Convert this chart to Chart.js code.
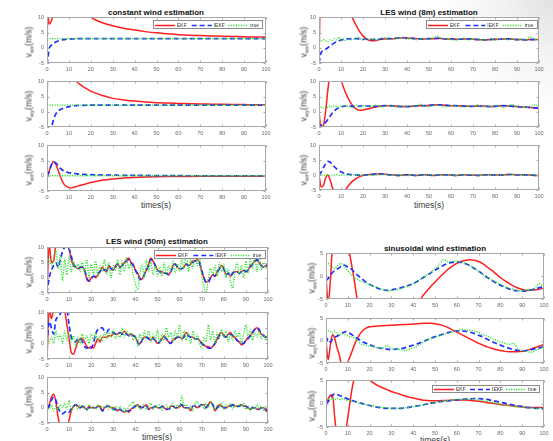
<!DOCTYPE html>
<html>
<head>
<meta charset="utf-8">
<script src="https://cdn.jsdelivr.net/npm/chart.js@4.4.1/dist/chart.umd.min.js"></script>
<style>
  body { margin: 0; width: 553px; height: 441px; overflow: hidden; position: relative;
         background: radial-gradient(circle at 553px 0px, #e2e2e2 0px, #f2f2f2 50px, #fff 115px);
         font-family: "Liberation Sans", Arial, sans-serif; }
  canvas { position: absolute; }
  .ttl { position: absolute; font-weight: bold; font-size: 8px; color: #111; white-space: nowrap; transform: translate(-50%, -50%); }
  .xl { position: absolute; font-size: 8.5px; color: #3a3a3a; white-space: nowrap; transform: translate(-50%, -50%); }
  .yl { position: absolute; font-size: 8.5px; color: #3a3a3a; white-space: nowrap; transform: translate(-50%, -50%) rotate(-90deg); }
  .yl sub { font-size: 6px; vertical-align: -2px; }
</style>
</head>
<body>
<script>
// ---- tick labels ----
const xTicks = [0, 10, 20, 30, 40, 50, 60, 70, 80, 90, 100];
const yTicksLES = [-5, 0, 5, 10];
const yTicksSin = [-5, 0, 5];
const seriesNames = ["EKF", "IEKF", "true"];

// ---- constant wind ----
const tConst = [0, 0.3, 1, 2, 3, 4, 5, 6, 7, 8, 9, 10, 11, 12, 13, 14, 15, 16, 18, 20, 22, 25,
  30, 35, 40, 45, 50, 55, 60, 65, 70, 75, 80, 85, 90, 95, 100];
const cxEkf = [-6, 11, 7.8, 8.8, 11.5, 14, 16, 17, 17.5, 17.5, 17, 16.5, 16, 15.5, 15, 14.2, 13.4, 12.7, 11.3, 10.1, 9.2, 8.3,
  7.2, 6.4, 5.8, 5.3, 4.9, 4.6, 4.3, 4.1, 4.0, 3.9, 3.8, 3.7, 3.6, 3.55, 3.5];
const cxIekf = [-5.5, -4, -0.3, 0.8, 1.5, 1.9, 2.2, 2.4, 2.6, 2.7, 2.8, 2.85, 2.9, 2.95, 2.95, 3, 3, 3, 3, 3, 3, 3,
  3, 3, 3, 3, 3, 3, 3, 3, 3, 3, 3, 3, 3, 3, 3];
const cxTrue = [3, 3, 3, 3, 3, 3, 3, 3, 3, 3, 3, 3, 3, 3, 3, 3, 3, 3, 3, 3, 3, 3,
  3, 3, 3, 3, 3, 3, 3, 3, 3, 3, 3, 3, 3, 3, 3];
const cyEkf = [0, 14, 20, 22, 22, 21, 20, 19, 18, 17, 15.5, 14, 12.8, 11.5, 10.3, 9.6, 9.0, 8.5, 7.6, 6.8, 6.2, 5.4,
  4.4, 3.9, 3.5, 3.2, 3.0, 2.85, 2.75, 2.65, 2.55, 2.5, 2.45, 2.4, 2.35, 2.3, 2.3];
const cyIekf = [-6, -5.5, -5.2, -5, -2.5, -0.8, 0.2, 0.7, 1.0, 1.3, 1.5, 1.7, 1.8, 1.9, 2.0, 2.05, 2.1, 2.1, 2.15, 2.2, 2.2, 2.2,
  2.2, 2.2, 2.2, 2.2, 2.2, 2.2, 2.2, 2.2, 2.2, 2.2, 2.2, 2.2, 2.2, 2.2, 2.2];
const cyTrue = [2.2, 2.2, 2.2, 2.2, 2.2, 2.2, 2.2, 2.2, 2.2, 2.2, 2.2, 2.2, 2.2, 2.2, 2.2, 2.2, 2.2, 2.2, 2.2, 2.2, 2.2, 2.2,
  2.2, 2.2, 2.2, 2.2, 2.2, 2.2, 2.2, 2.2, 2.2, 2.2, 2.2, 2.2, 2.2, 2.2, 2.2];
const czEkf = [0, 0.2, 1.5, 3.5, 4.7, 3.8, 2, 0, -1.8, -3, -3.6, -3.9, -4.0, -3.8, -3.6, -3.4, -3.2, -3.0, -2.6, -2.2, -1.9, -1.5,
  -1.05, -0.75, -0.55, -0.4, -0.32, -0.27, -0.23, -0.2, -0.18, -0.16, -0.15, -0.14, -0.13, -0.12, -0.12];
const czIekf = [0, 0.2, 1.5, 3.6, 4.5, 4.2, 3.4, 2.5, 1.9, 1.5, 1.2, 1.0, 0.9, 0.8, 0.7, 0.6, 0.55, 0.5, 0.4, 0.35, 0.3, 0.25,
  0.2, 0.15, 0.1, 0.1, 0.05, 0.05, 0.05, 0, 0, 0, 0, 0, 0, 0, 0];
const czTrue = [0, 0, 0, 0, 0, 0, 0, 0, 0, 0, 0, 0, 0, 0, 0, 0, 0, 0, 0, 0, 0, 0,
  0, 0, 0, 0, 0, 0, 0, 0, 0, 0, 0, 0, 0, 0, 0];

// ---- LES wind (8m) ----
const t8 = [0, 1, 2, 3, 4, 5, 6, 7, 8, 9, 10, 11, 12, 13, 14, 15, 16, 17, 18, 19, 20,
  22, 24, 26, 28, 30, 32, 34, 36, 38, 40, 42, 44, 46, 48, 50, 52, 54, 56, 58, 60,
  62, 64, 66, 68, 70, 72, 74, 76, 78, 80, 82, 84, 86, 88, 90, 92, 94, 96, 98, 100];
const x8Ekf = [-5, 30, 29, 28, 26, 24, 22, 20, 18.5, 17, 15.6, 14.3, 13.1, 12, 11, 10, 8.6, 7.2, 5.9, 4.8, 3.9,
  2.7, 2.3, 2.4, 2.8, 2.9, 3.0, 3.0, 3.1, 3.3, 3.2, 3.1, 3.0, 2.9, 2.9, 3.0, 3.0, 3.1, 3.0, 2.9, 2.9,
  2.8, 2.8, 2.9, 2.9, 2.8, 2.7, 2.6, 2.6, 2.7, 2.8, 2.8, 2.9, 2.9, 2.8, 2.7, 2.7, 2.6, 2.7, 2.7, 2.7];
const x8Iekf = [-5, -1.5, -1.0, -0.5, 0, 0.6, 1.1, 1.6, 2.0, 2.3, 2.5, 2.7, 2.8, 2.9, 2.9, 3.0, 3.0, 3.0, 2.9, 2.9, 2.8,
  2.8, 2.7, 2.8, 2.9, 3.0, 3.0, 3.1, 3.2, 3.3, 3.2, 3.1, 3.0, 2.9, 2.9, 3.0, 3.0, 3.1, 3.0, 2.9, 2.9,
  2.8, 2.8, 2.9, 2.9, 2.8, 2.7, 2.6, 2.6, 2.7, 2.8, 2.8, 2.9, 2.9, 2.8, 2.7, 2.7, 2.6, 2.7, 2.7, 2.7];
const x8True = [2.5, 2.2, 2.8, 2.3, 2.0, 2.6, 2.4, 3.0, 2.6, 3.5, 2.5, 2.9, 2.4, 2.7, 3.1, 2.6, 2.8, 3.2, 3.4, 2.9, 2.5,
  3.0, 2.8, 2.6, 3.1, 3.3, 2.7, 2.9, 3.2, 3.4, 2.8, 3.0, 2.6, 2.9, 3.1, 2.7, 3.3, 3.8, 2.9, 3.0, 2.7,
  2.5, 2.9, 3.2, 2.6, 2.8, 3.0, 2.5, 2.7, 3.1, 2.4, 2.8, 3.0, 2.6, 2.9, 2.5, 2.8, 2.6, 3.6, 2.7, 2.6];
const y8Ekf = [0, -6, -4.5, 0, 7, 12.5, 16, 17, 16, 13.5, 10.3, 8.3, 6.4, 4.8, 3.4, 2.3, 1.5, 0.9, 0.6, 0.5, 0.6,
  0.9, 1.3, 1.6, 1.9, 2.0, 2.0, 1.9, 1.8, 1.7, 1.7, 1.8, 1.9, 2.0, 2.0, 2.1, 2.2, 2.3, 2.2, 2.1, 2.0,
  2.0, 1.9, 1.9, 1.8, 1.8, 1.9, 1.9, 1.8, 1.7, 1.8, 1.9, 2.0, 1.9, 1.8, 1.7, 1.6, 1.5, 1.4, 1.2, 1.1];
const y8Iekf = [-5.5, -4.5, -4.0, -3.5, -2.5, -1.5, -0.5, 0.3, 0.9, 1.3, 1.6, 1.8, 1.9, 1.9, 1.9, 1.8, 1.8, 1.8, 1.8, 1.9, 1.9,
  1.9, 1.8, 1.8, 1.9, 2.0, 2.0, 1.9, 1.8, 1.7, 1.7, 1.8, 1.9, 2.0, 2.0, 2.1, 2.2, 2.3, 2.2, 2.1, 2.0,
  2.0, 1.9, 1.9, 1.8, 1.8, 1.9, 1.9, 1.8, 1.7, 1.8, 1.9, 2.0, 1.9, 1.8, 1.7, 1.6, 1.5, 1.4, 1.3, 1.2];
const y8True = [2.3, 1.5, 1.2, 1.8, 1.4, 1.9, 1.6, 2.0, 1.7, 1.5, 1.9, 1.6, 2.1, 1.8, 1.7, 1.4, 1.9, 2.2, 1.8, 1.6, 2.0,
  1.7, 1.9, 2.2, 1.6, 1.8, 2.1, 1.7, 1.5, 1.9, 1.8, 2.0, 1.6, 2.5, 1.9, 1.7, 2.0, 2.2, 1.8, 1.6, 2.1,
  1.9, 1.7, 1.5, 2.0, 1.8, 2.3, 1.6, 1.9, 1.7, 2.0, 1.8, 1.5, 1.9, 2.4, 1.6, 1.8, 1.4, 1.7, 2.3, 1.6];
const z8Ekf = [0, -4.0, -3.5, -1, 0, -1.5, -4, -5.5, -6.5, -7, -6.8, -6, -5, -3.9, -3, -2.2, -1.6, -1.1, -0.7, -0.35, -0.1,
  0.1, 0.25, 0.35, 0.4, 0.3, 0.1, 0, -0.1, 0, 0.1, 0, -0.1, 0, 0.1, 0, -0.1, 0, 0.1, 0.1, 0,
  -0.1, 0, 0.1, 0, 0, -0.1, 0, 0.1, 0.1, 0, 0, 0.1, 0.2, 0.2, 0.1, 0.1, 0, 0, -0.1, -0.2];
const z8Iekf = [0, 1.0, 2.5, 3.8, 4.6, 4.4, 3.6, 2.8, 2.1, 1.5, 1.1, 0.8, 0.5, 0.3, 0.2, 0.1, 0.05, 0, 0, 0, 0,
  0.1, 0.2, 0.3, 0.35, 0.3, 0.1, 0, -0.1, 0, 0.1, 0, -0.1, 0, 0.1, 0, -0.1, 0, 0.1, 0.1, 0,
  -0.1, 0, 0.1, 0, 0, -0.1, 0, 0.1, 0.1, 0, 0, 0.1, 0.2, 0.2, 0.1, 0.1, 0, 0, -0.1, -0.2];
const z8True = [0, 0.1, -0.1, 0.1, 0, -0.1, 0.1, 0, 0.1, -0.1, 0, 0.1, 0, -0.1, 0.1, 0, 0.1, -0.1, 0, 0.1, 0,
  0.1, -0.1, 0, 0.1, 0.2, 0, -0.1, 0.1, 0, -0.2, 0.1, 0, 0.1, -0.1, 0, 0.1, 0, -0.1, 0.1, 0,
  -0.1, 0.1, 0, 0.1, 0.2, 0, -0.1, 0, 0.1, 0, -0.1, 0.1, 0, 0.1, 0.2, 0, -0.1, 0, 0.1, -0.1];

// ---- LES wind (50m) ----
const t50 = [0, 1, 2, 3, 4, 5, 6, 7, 8, 9, 10, 11, 12, 13, 14, 15, 16, 17, 18, 19,
  20, 21, 22, 23, 24, 25, 26, 27, 28, 29, 30, 31, 32, 33, 34, 35, 36, 37, 38, 39,
  40, 41, 42, 43, 44, 45, 46, 47, 48, 49, 50, 51, 52, 53, 54, 55, 56, 57, 58, 59,
  60, 61, 62, 63, 64, 65, 66, 67, 68, 69, 70, 71, 72, 73, 74, 75, 76, 77, 78, 79,
  80, 81, 82, 83, 84, 85, 86, 87, 88, 89, 90, 91, 92, 93, 94, 95, 96, 97, 98, 99, 100];
const x50Ekf = [-5, 11, 5, 5.5, 11, 13, 13, 12.5, 12, 11,
  9.5, 6, 4, 3.5, 3, 3.5, 3.5, 2.5, -0.5, -1.2,
  0, 0.5, 0, 1, 2, 3.5, 2.5, 2, 4, 3,
  2.5, 4, 4.5, 3.5, 4, 5, 6, 6.5, 5, 4.5,
  2.5, 1.5, 0, -0.5, 1, 2.5, 4.5, 6.5, 5.5, 4,
  2.5, 2, 2, 1.5, 1.5, 1, 2, 4, 4.5, 3.5,
  3, 3, 3.5, 4.5, 4, 4.5, 5.5, 5.5, 6, 5,
  2, 0, -1.5, -1, 0, 1, 0.5, 2, 3, 4,
  3, 1, 1.5, 0.5, 1.5, 2, 2, 1.5, 2, 2.5,
  2, 2.5, 4, 4.5, 5.5, 6, 5, 4, 3.5, 4, 4.5];
const x50Iekf = [-5, 0, 2.5, 4, 5, 3.5, 6, 8.5, 10, 10.5,
  9.5, 7, 4.5, 3.5, 3, 3.5, 3.5, 2.5, 0, -1,
  -0.5, 0.5, 0.5, 1.5, 2, 3, 2.5, 2.5, 3.5, 3,
  2.5, 3.5, 4.5, 3.5, 4, 5, 5.5, 6, 5, 4,
  2.5, 1, -0.5, -0.5, 1, 2.5, 4, 6, 5.5, 4,
  2.5, 2, 1.5, 1.5, 1.5, 1, 2, 3.5, 4.5, 3.5,
  3, 3, 3.5, 4.5, 4, 4.5, 5, 5.5, 5.5, 5,
  2.5, 0, -1.5, -1.5, 0, 1, 0.5, 1.5, 3, 3.5,
  3, 1, 1.5, 0.5, 1.5, 2, 2, 1.5, 2, 2.5,
  2, 2.5, 3.5, 4.5, 5, 6, 5, 4, 3.5, 3.5, 4.5];
const x50True = [5, 6, 4, 6.5, 9, 3, 7.5, -1, 6, 1,
  7, 2, 5.5, 3, 4.5, 2, 5, 1.5, 6, 0,
  4.5, 1, 5.5, 0.5, 4, 2, 6, 1, 5, 0,
  4, 2.5, 6, 1, 5.5, 2, 6.5, 3, 4.5, 1,
  -2, -4, 1, 4.5, 0, 6, 2, 5.5, 1, 4,
  0.5, 3.5, 0.5, 5, 1, 4, 2, 5.5, 1.5, 4.5,
  2, 6, 3, 8.5, 2, 6, 3, 10, 4, 6.5,
  1, -3, -5, 0, 3, 1, 4, 0.5, 5, 2,
  4.5, 0, 3, -1, -3.5, 2, 5, 1, 4, 0,
  5.5, 1.5, 6, 3, 7, 2, 8.5, 2.5, 5, 3, 4];
const y50Ekf = [-5, 11, 8, 11, 13, 14, 14, 13, 10.5, 6,
  1.5, -3, -3.5, -1.5, 0.5, 1.5, 1.5, 0.5, -1, -1.5,
  -1, -1.5, 0, 1.5, 0.5, 2, 2, 2, 2.5, 2.5,
  3, 3, 3, 3.5, 3, 4, 3, 2.5, 3, 2.5,
  2, 0.5, 0, 1, 2, 2, 1.5, 1, 2, 1,
  0, 0.5, 1.5, 2.5, 1.5, 0.5, 0, 1, 1.5, 2,
  2, 1.5, 2.5, 3.5, 2.5, 2, 2, 1.5, 1.5, 1,
  0, -0.5, -1, -1, -1.5, -1, 0, 1.5, 3, 3.5,
  2.5, 2, 3, 3.5, 2.5, 2, 1, 0.5, -0.5, 0,
  1, 2, 2.5, 3.5, 4.5, 5, 4, 3, 2.5, 2, 2];
const y50Iekf = [0, 7, 5, 3, 7.5, 8.5, 9.5, 11, 12, 11,
  6, 2, 1, 0.5, 1.5, 1.5, 0.5, -1, -1.5, -1,
  -1.5, 0, 3, 4.5, 5, 5, 4, 3.5, 4.5, 4,
  3.5, 3, 3, 3.5, 3, 3.5, 3, 2.5, 3, 2.5,
  2, 0.5, -0.5, 1, 2, 2, 1.5, 1, 1.5, 1,
  0, 0.5, 1.5, 2, 1.5, 0.5, 0, 1, 1.5, 2,
  2, 1.5, 2, 3, 2.5, 2, 2, 1.5, 1.5, 1,
  0, -0.5, -1, -1.5, -1.5, -1, 0, 1, 2.5, 3,
  2.5, 2, 2.5, 3, 2.5, 2, 1, 0.5, 0, 0,
  1, 1.5, 2.5, 3.5, 4.5, 5, 4.5, 3, 2.5, 2, 2];
const y50True = [1, 0.5, 2, 0, 4, 1.5, 3, 0, 4, 1,
  3.5, 0.5, 2.5, -1, 2, 0, 3, 1, 2.5, 0,
  3, 1, 3.5, 0.5, 2.5, 1, 3.5, 1.5, 4, 2,
  4.5, 1.5, 3, 2, 5, 2, 4, 2.5, 3.5, 1,
  2.5, -1, 3, 1, 4, 1.5, 4, 0.5, 3, 1,
  4.5, 0, 3, 1, 5, 2, 3.5, 0.5, 4, 2,
  6, 1, 4, 1, 3.5, 0, 4, 1, 3, 0,
  -1.5, 2, 0.5, 6, 1, 4, 0, 3.5, 1.5, 4.5,
  2, 4, 0.5, 3, 1, 4, 2, 3.5, 0, 3,
  6, 2, 4.5, 1, 3.5, 2, 4, 1.5, 3, 1, 2];
const z50Ekf = [0, 1, 3.5, 4.5, 2, -3, -6, -8, -8, -6.5,
  -4, -1, 0.5, 1, 0.5, 0, 0.5, 0, -0.5, 0.5,
  0, 0, 0, 0.5, 0.5, -1, 0, 0.5, 0.5, 0,
  0, -0.5, -1, -0.5, -1, -1.5, -1, -1.5, -0.5, 0,
  0.5, 1, 0, 0, 0.5, 1, -0.5, 0, 0, 0.5,
  0, 0, 0.5, 0, -0.5, -0.5, 0.5, 0.5, 0, 0,
  0.5, 1, 0, 0, 0, -1, 0.5, 0.5, 0, 0.5,
  1, 1, 0, 1, 2, 1, -1, 0, 1, 0.5,
  0, 0, 0.5, 0.5, 1, 0.5, 0.5, 0.5, 1, 0.5,
  0.5, 0, -0.5, 0, 0, -0.5, -0.5, 0, 0, -1, -1.5];
const z50Iekf = [0, 0.5, 2.5, 3.5, 2.5, 0, -1.5, -2, -1.5, -1,
  -1.5, 0, 0.5, 1, 0.5, 0, 0.5, 0, -0.5, 0,
  0, 0, 0, 0.5, 0, -1, -0.5, 0.5, 0.5, 0,
  -0.5, -0.5, -1, -0.5, -1, -1.5, -1, -1, -0.5, 0,
  0.5, 1, 0.5, 0, 0.5, 0.5, -0.5, 0, 0, 0.5,
  0, 0, 0.5, 0, -0.5, -0.5, 0, 0.5, 0, 0,
  0.5, 1, 0, 0, 0, -0.5, 0.5, 0.5, 0, 0.5,
  1, 0.5, 0, 1, 1.5, 1, -0.5, 0, 0.5, 0.5,
  0, 0, 0.5, 0.5, 1, 0.5, 0.5, 0.5, 1, 0.5,
  0.5, 0, -0.5, 0, 0, -0.5, -0.5, 0, 0, -0.5, -1];
const z50True = [0.5, -0.5, 1, -1, 0.5, -1, 1, 0, 1.5, -0.5,
  2.5, -1, 0.5, 1, -0.5, 1, 0, 0.5, -1, 1,
  0, 0.5, -0.5, 1, -0.5, 0.5, 0, 1, -0.5, 0.5,
  -1, 0.5, -0.5, 0.5, -1, 0, -1.5, 0.5, 1, 2,
  0, 1, -0.5, 0.5, 1, -0.5, 0.5, 1.5, -0.5, 0.5,
  0, 1, -1, 0.5, 1, -0.5, 0.5, 1.5, 0, 1,
  0, 4, 0.5, 1, -0.5, 0.5, -1, 1.5, 2, 0.5,
  1, -0.5, 1.5, 0, 2, 0.5, -0.5, 1, 0, 1.5,
  -0.5, 1, 0.5, 1.5, -0.5, 1, 0, 1, 0.5, 1.5,
  -0.5, 0.5, -1, 0.5, -0.5, 1, -0.5, 0.5, -1, 0.5, 0];

// ---- sinusoidal wind ----
const tSin = [0, 1, 2, 3, 4, 5, 6, 7, 8, 9, 10, 11, 12, 13, 14, 15, 16,
  18, 20, 22, 24, 26, 28, 30, 32, 34, 36, 38, 40, 42, 44, 46, 48, 50, 52, 54, 56,
  58, 60, 62, 64, 66, 68, 70, 72, 74, 76, 78, 80, 82, 84, 86, 88, 90, 92, 94, 96, 98, 100];
const sxEkf = [0, -6, -1, 7, 9, 11, 12, 12, 11, 9, 6.5, 4.5, 1.8, -1, -4.2, -7, -9,
  -11, -12.5, -13.5, -14, -14.5, -14.5, -14, -13, -12, -11, -9.5, -8, -6.2, -4.6, -3.4, -2.3, -1.3, -0.3, 0.6, 1.5,
  2.2, 2.8, 3.2, 3.5, 3.6, 3.5, 3.2, 2.7, 2.0, 1.3, 0.5, -0.3, -1.0, -1.6, -2.2, -2.6, -2.9, -3.1, -3.1, -3.0, -2.8, -2.7];
const sxIekf = [-1, -0.5, 0.2, 0.8, 1.2, 1.5, 1.8, 2.2, 2.5, 2.3, 2.0, 1.8, 1.4, 0.9, 0.4, 0, -0.4,
  -1.2, -1.8, -2.3, -2.7, -3.0, -3.1, -3.0, -2.8, -2.6, -2.3, -2.0, -1.6, -1.1, -0.5, 0.1, 0.7, 1.3, 1.9, 2.4, 2.8,
  3.0, 3.1, 3.0, 2.7, 2.3, 1.7, 1.1, 0.4, -0.3, -0.9, -1.5, -2.0, -2.4, -2.8, -3.1, -3.2, -3.3, -3.2, -3.0, -2.8, -2.5, -2.3];
const sxTrue = [3.1, 2.8, 2.3, 2.0, 1.6, 2.1, 2.6, 2.8, 2.3, 1.8, 1.2, 0.6, 0.1, -0.4, -0.6, -0.8, -1.1,
  -1.5, -1.9, -2.2, -2.5, -2.9, -3.2, -3.2, -3.0, -2.8, -2.4, -2.2, -1.7, -1.1, -0.5, 0.2, 0.8, 1.6, 2.5, 3.6, 3.1,
  3.3, 3.3, 3.0, 2.8, 2.4, 1.6, 1.0, 0.4, -0.2, -0.8, -1.3, -1.8, -2.3, -2.6, -2.9, -3.1, -3.2, -3.0, -3.1, -2.5, -1.6, -2.4];
const syEkf = [0, -4.3, -1, 1.3, 0.5, -1.5, -3, -5.3, -6.2, -5.8, -4.8, -3.6, -2.3, -1, 0.2, 1.0, 1.8,
  2.7, 3.1, 3.2, 3.3, 3.35, 3.4, 3.45, 3.5, 3.55, 3.6, 3.65, 3.7, 3.8, 3.85, 3.9, 3.9, 3.8, 3.6, 3.3, 2.9,
  2.4, 1.9, 1.4, 0.9, 0.4, -0.1, -0.6, -1.0, -1.4, -1.7, -2.0, -2.2, -2.4, -2.5, -2.5, -2.5, -2.4, -2.2, -1.9, -1.5, -1.2, -0.8];
const syIekf = [-0.5, 0.5, -0.3, 0.4, 0.8, 1.0, 1.2, 1.5, 1.8, 2.0, 1.9, 1.6, 1.3, 0.9, 0.6, 0.3, 0.0,
  -0.5, -0.9, -1.3, -1.6, -1.8, -1.9, -2.0, -1.9, -1.8, -1.6, -1.3, -1.0, -0.7, -0.3, 0.1, 0.5, 0.9, 1.2, 1.5, 1.8,
  2.0, 2.2, 2.2, 2.1, 1.9, 1.6, 1.2, 0.8, 0.3, -0.2, -0.6, -1.0, -1.4, -1.7, -2.0, -2.2, -2.3, -2.2, -2.0, -1.8, -1.6, -1.4];
const syTrue = [2.6, 2.2, 2.0, 1.7, 2.2, 1.6, 1.3, 1.5, 1.5, 1.3, 1.1, 0.8, 0.9, 0.6, 0.3, -0.2, -0.7,
  -1.0, -1.2, -1.4, -1.6, -1.7, -1.1, -1.7, -1.9, -2.0, -2.2, -2.0, -1.6, -1.2, -0.6, 0.2, 0.4, 0.7, 1.1, 1.4, 1.6,
  1.9, 2.2, 2.6, 2.4, 2.3, 2.2, 1.8, 1.3, 1.0, 0.5, 0.1, -0.3, -0.6, -0.8, -0.6, -1.8, -2.2, -2.4, -2.6, -2.2, -1.8, -1.4];
const szEkf = [0, 1, 1.8, 1.9, -3, -7, -10, -10, -8.5, -6, -3, 0.3, 3.3, 5.5, 7, 7.5, 7.5,
  6.2, 5.0, 4.4, 3.8, 3.4, 3.0, 2.6, 2.3, 2.0, 1.7, 1.4, 1.2, 1.0, 0.8, 0.7, 0.6, 0.6, 0.6, 0.7, 0.7,
  0.8, 0.8, 0.8, 0.8, 0.7, 0.6, 0.5, 0.4, 0.2, 0.1, 0.0, -0.2, -0.3, -0.4, -0.5, -0.6, -0.7, -0.8, -0.8, -0.8, -0.8, -0.8];
const szIekf = [0, 0.4, 1.2, 1.8, 2.1, 2.0, 1.8, 1.6, 1.4, 1.2, 1.0, 0.9, 0.7, 0.5, 0.4, 0.2, 0.1,
  -0.2, -0.4, -0.6, -0.8, -0.9, -1.0, -1.0, -1.0, -1.0, -0.9, -0.8, -0.6, -0.5, -0.3, -0.1, 0.1, 0.2, 0.4, 0.5, 0.6,
  0.7, 0.8, 0.9, 1.0, 1.0, 1.1, 1.1, 1.0, 0.9, 0.7, 0.5, 0.3, 0.1, -0.1, -0.3, -0.5, -0.6, -0.8, -0.9, -1.0, -1.0, -1.1];
const szTrue = [1.2, 1.0, 0.9, 1.1, 0.8, 1.2, 1.0, 0.9, 1.1, 0.8, 0.7, 0.6, 0.5, 0.4, 0.3, 0.1, 0.0,
  -0.2, -0.3, -0.5, -0.7, -0.8, -0.9, -1.0, -1.0, -1.0, -0.9, -0.8, -0.6, -0.5, -0.3, -0.1, 0.1, 0.3, 0.4, 0.6, 0.7,
  0.8, 0.9, 0.9, 1.0, 1.0, 0.9, 0.8, 0.6, 0.5, 0.3, 0.1, -0.1, -0.3, -0.4, -0.6, -0.7, -0.8, -0.9, -0.9, -1.0, -1.0, -1.0];

// ---- layout of the four figures (page pixels) ----
const panels = [
  { title: "constant wind estimation", L: 47, R: 266, rows: [[17, 63], [81, 127], [145, 191]],
    t: tConst, series: [[cxEkf, cxIekf, cxTrue], [cyEkf, cyIekf, cyTrue], [czEkf, czIekf, czTrue]],
    yMin: -5, yMax: 10, yTicks: yTicksLES, titleAt: [156, 12], xlabAt: [156, 205], ylabX: 29,
    legend: { row: 0, x: 153, y: 20, w: 110, h: 9 } },
  { title: "LES wind (8m) estimation", L: 319, R: 539, rows: [[17, 63], [81, 127], [145, 190]],
    t: t8, series: [[x8Ekf, x8Iekf, x8True], [y8Ekf, y8Iekf, y8True], [z8Ekf, z8Iekf, z8True]],
    yMin: -5, yMax: 10, yTicks: yTicksLES, titleAt: [429, 12], xlabAt: [429, 205], ylabX: 304,
    legend: { row: 0, x: 426, y: 20, w: 112, h: 9 } },
  { title: "LES wind (50m) estimation", L: 47, R: 268, rows: [[247, 293], [312, 359], [377, 423]],
    t: t50, series: [[x50Ekf, x50Iekf, x50True], [y50Ekf, y50Iekf, y50True], [z50Ekf, z50Iekf, z50True]],
    yMin: -5, yMax: 10, yTicks: yTicksLES, titleAt: [157, 241], xlabAt: [157, 437], ylabX: 29,
    legend: { row: 0, x: 154, y: 250, w: 112, h: 9 } },
  { title: "sinusoidal wind estimation", L: 326, R: 544, rows: [[253, 299], [318, 363], [380, 427]],
    t: tSin, series: [[sxEkf, sxIekf, sxTrue], [syEkf, syIekf, syTrue], [szEkf, szIekf, szTrue]],
    yMin: -5, yMax: 5, yTicks: yTicksSin, titleAt: [435, 248], xlabAt: [435, 440], ylabX: 312,
    legend: { row: 2, x: 432, y: 385, w: 108, h: 8 } }
];
const subs = ["wx", "wy", "wz"];

const lineStyles = [
  { borderColor: "#ff1f1f", borderWidth: 1.5, order: 3 },
  { borderColor: "#1f2fff", borderWidth: 1.7, borderDash: [5, 3], order: 2 },
  { borderColor: "#2ee02e", borderWidth: 1.3, borderDash: [1.2, 1.3], order: 1 }
];

Chart.defaults.font.family = '"Liberation Sans", Arial, sans-serif';

// white axes background, frame with inward ticks (matlab look) + boxed legend
const axesBox = {
  id: "axesBox",
  beforeDatasetsDraw(chart) {
    const { ctx, chartArea: a } = chart;
    ctx.save();
    ctx.fillStyle = "#fff";
    ctx.fillRect(a.left, a.top, a.right - a.left, a.bottom - a.top);
    ctx.restore();
  },
  afterDatasetsDraw(chart, args, opts) {
    const { ctx, chartArea: a, scales: { x, y } } = chart;
    const l = Math.round(a.left) + 0.5, r = Math.round(a.right) - 0.5;
    const t = Math.round(a.top) + 0.5, b = Math.round(a.bottom) - 0.5;
    ctx.save();
    ctx.strokeStyle = "#a8a8a8";
    ctx.lineWidth = 1;
    ctx.strokeRect(l, t, r - l, b - t);
    ctx.beginPath();
    x.ticks.forEach(tk => {
      const px = Math.round(x.getPixelForValue(tk.value)) + 0.5;
      ctx.moveTo(px, b); ctx.lineTo(px, b - 2);
      ctx.moveTo(px, t); ctx.lineTo(px, t + 2);
    });
    y.ticks.forEach(tk => {
      const py = Math.round(y.getPixelForValue(tk.value)) + 0.5;
      ctx.moveTo(l, py); ctx.lineTo(l + 2, py);
      ctx.moveTo(r, py); ctx.lineTo(r - 2, py);
    });
    ctx.stroke();

    const lg = opts.legend;
    if (lg) {
      ctx.fillStyle = "#fff";
      ctx.fillRect(lg.x, lg.y, lg.w, lg.h);
      ctx.strokeStyle = "#8c8c8c";
      ctx.strokeRect(lg.x + 0.5, lg.y + 0.5, lg.w - 1, lg.h - 1);
      const iw = lg.w / 3, yc = Math.round(lg.y + lg.h / 2) + 0.5;
      chart.data.datasets.forEach((ds, i) => {
        const x0 = lg.x + i * iw + 2;
        ctx.strokeStyle = ds.borderColor;
        ctx.lineWidth = ds.borderWidth;
        ctx.setLineDash(ds.borderDash || []);
        ctx.beginPath();
        ctx.moveTo(x0, yc); ctx.lineTo(x0 + 20, yc);
        ctx.stroke();
        ctx.setLineDash([]);
        ctx.fillStyle = "#333";
        ctx.font = '5px "Liberation Sans", Arial, sans-serif';
        ctx.textBaseline = "middle";
        ctx.fillText(ds.label, x0 + 22, yc);
      });
    }
    ctx.restore();
  }
};

function addText(cls, html, x, y) {
  const d = document.createElement("div");
  d.className = cls;
  d.innerHTML = html;
  d.style.left = x + "px";
  d.style.top = y + "px";
  document.body.appendChild(d);
}

panels.forEach(p => {
  addText("ttl", p.title, p.titleAt[0], p.titleAt[1]);
  addText("xl", "times(s)", p.xlabAt[0], p.xlabAt[1]);

  p.rows.forEach(([top, bottom], r) => {
    const cv = document.createElement("canvas");
    const left = p.L - 40, ctop = top - 6;
    cv.width = p.R - p.L + 50;
    cv.height = bottom - top + 18;
    cv.style.left = left + "px";
    cv.style.top = ctop + "px";
    document.body.appendChild(cv);

    addText("yl", "v<sub>" + subs[r] + "</sub>(m/s)", p.ylabX, (top + bottom) / 2 + 2);

    const legend = p.legend.row === r
      ? { x: p.legend.x - left, y: p.legend.y - ctop, w: p.legend.w, h: p.legend.h }
      : null;

    new Chart(cv, {
      type: "line",
      data: {
        datasets: seriesNames.map((nm, k) => Object.assign({
          label: nm,
          data: p.t.map((tt, i) => ({ x: tt, y: p.series[r][k][i] })),
          pointRadius: 0,
          cubicInterpolationMode: "monotone",
          clip: 0
        }, lineStyles[k]))
      },
      options: {
        responsive: false,
        animation: false,
        devicePixelRatio: 1,
        layout: { padding: { top: 6, right: 10, left: 0, bottom: 0 }, autoPadding: false },
        plugins: { legend: { display: false }, tooltip: { enabled: false }, axesBox: { legend } },
        scales: {
          x: {
            type: "linear", min: 0, max: 100,
            grid: { display: false, drawTicks: false }, border: { display: false },
            afterBuildTicks: s => { s.ticks = xTicks.map(v => ({ value: v })); },
            afterFit: s => { s.height = 12; },
            ticks: { font: { size: 5.5 }, color: "#6a6a6a", padding: 3, maxRotation: 0, autoSkip: false }
          },
          y: {
            type: "linear", min: p.yMin, max: p.yMax,
            grid: { display: false, drawTicks: false }, border: { display: false },
            afterBuildTicks: s => { s.ticks = p.yTicks.map(v => ({ value: v })); },
            afterFit: s => { s.width = 40; },
            ticks: { font: { size: 5.5 }, color: "#6a6a6a", padding: 3, autoSkip: false }
          }
        }
      },
      plugins: [axesBox]
    });
  });
});
</script>
</body>
</html>
